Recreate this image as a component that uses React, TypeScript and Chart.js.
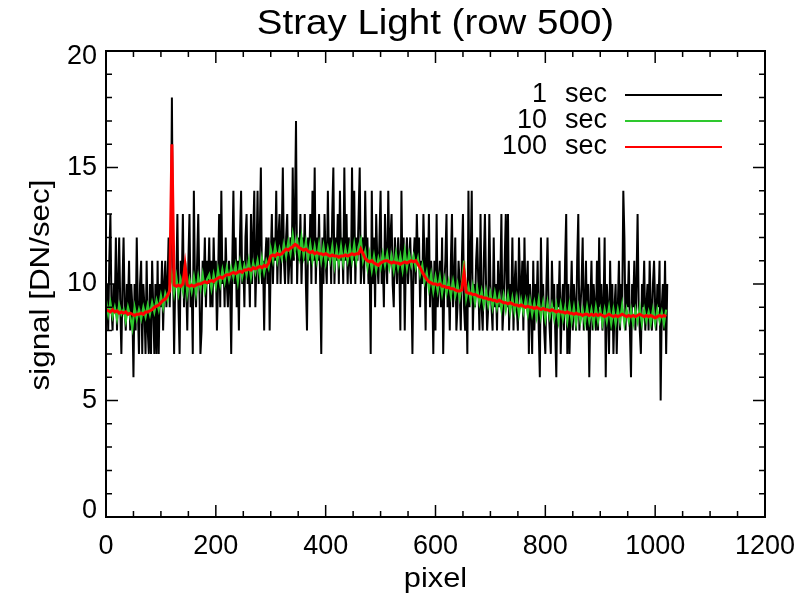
import React, { useEffect, useRef } from "react";
import { Chart, registerables } from "chart.js";

Chart.register(...registerables);

// ---- data ----
const TITLE = "Stray Light (row 500)";
const X_TITLE = "pixel";
const Y_TITLE = "signal [DN/sec]";
const xTicks = [0, 200, 400, 600, 800, 1000, 1200];
const yTicks = [0, 5, 10, 15, 20];
const legendNames = ["1", "10", "100"];
const legendUnit = "sec";

// 1 sec exposure, sampled every 2 pixels
const BLACK_STEP = 2;
const black1s = [
  9, 10, 8, 11, 13, 9, 8, 10, 9, 12, 8, 10, 12, 9, 7, 10,
  12, 9, 8, 10, 9, 11, 8, 10, 9, 6, 10, 8, 12, 9, 7, 10,
  11, 7, 10, 9, 7, 11, 8, 7, 10, 7, 11, 9, 7, 10, 7, 11,
  7, 10, 9, 11, 8, 10, 11, 9, 10, 12, 9, 11, 18, 11, 7, 10,
  10, 13, 9, 7, 11, 10, 13, 9, 11, 10, 8, 11, 13, 9, 10, 7,
  14, 10, 9, 11, 13, 10, 7, 8, 11, 10, 12, 9, 11, 10, 12, 9,
  11, 9, 12, 10, 11, 8, 10, 13, 9, 14, 10, 11, 9, 12, 10, 9,
  11, 10, 7, 11, 14, 10, 12, 9, 11, 8, 12, 14, 10, 11, 9, 12,
  13, 10, 11, 9, 13, 10, 12, 14, 9, 11, 14, 10, 12, 15, 10, 11,
  8, 11, 12, 10, 12, 8, 11, 13, 10, 12, 11, 14, 10, 12, 13, 10,
  12, 15, 11, 10, 12, 13, 10, 11, 12, 10, 15, 11, 13, 17, 10, 12,
  11, 13, 10, 12, 11, 13, 10, 8, 12, 11, 13, 10, 14, 11, 15, 10,
  12, 11, 13, 10, 7, 12, 10, 13, 11, 10, 14, 11, 12, 10, 13, 15,
  10, 12, 11, 13, 10, 14, 11, 12, 10, 15, 11, 13, 10, 12, 11, 10,
  15, 11, 14, 10, 12, 11, 13, 15, 10, 11, 12, 10, 14, 11, 12, 10,
  11, 7, 14, 10, 12, 9, 13, 11, 10, 12, 14, 10, 11, 9, 13, 11,
  10, 14, 11, 12, 13, 10, 9, 12, 11, 10, 12, 11, 8, 14, 10, 12,
  8, 11, 12, 10, 11, 12, 10, 7, 11, 12, 10, 13, 11, 12, 9, 11,
  10, 13, 11, 8, 12, 10, 13, 9, 11, 10, 7, 11, 8, 13, 9, 10,
  11, 9, 12, 7, 10, 11, 13, 9, 10, 8, 11, 13, 9, 10, 12, 8,
  9, 11, 10, 8, 11, 13, 9, 8, 10, 7, 14, 9, 11, 14, 8, 10,
  9, 11, 12, 10, 8, 13, 9, 8, 11, 13, 10, 8, 9, 13, 10, 9,
  8, 12, 9, 10, 8, 11, 9, 10, 13, 8, 9, 11, 13, 9, 13, 8,
  10, 9, 12, 8, 10, 11, 9, 8, 12, 10, 9, 11, 8, 12, 9, 10,
  11, 7, 10, 9, 7, 11, 8, 10, 9, 11, 8, 6, 12, 9, 10, 8,
  7, 10, 12, 9, 8, 7, 11, 9, 10, 8, 6, 10, 9, 11, 7, 9,
  10, 8, 11, 13, 7, 10, 7, 9, 11, 8, 10, 9, 8, 11, 13, 8,
  9, 10, 12, 8, 9, 11, 8, 10, 6, 9, 11, 8, 10, 9, 8, 11,
  8, 12, 9, 10, 8, 9, 12, 6, 10, 9, 7, 11, 8, 10, 7, 9,
  10, 7, 9, 11, 8, 10, 9, 14, 12, 8, 10, 9, 11, 8, 6, 10,
  9, 11, 8, 10, 13, 9, 8, 7, 10, 9, 11, 8, 9, 10, 8, 11,
  9, 8, 10, 11, 9, 8, 10, 9, 11, 5, 9, 10, 8, 11, 7, 10,
];

// 10 sec and 100 sec exposures, sampled every 4 pixels
const AVG_STEP = 4;
const green10s = [
  9.3, 8.7, 9.2, 8.6, 9.0, 8.5, 9.1, 8.7, 8.9, 8.4, 9.0, 8.6, 8.1, 9.0, 8.5, 8.9,
  8.5, 9.0, 8.6, 9.1, 8.7, 9.2, 8.8, 9.3, 8.9, 9.5, 9.0, 9.6, 9.3, 9.9, 10.4, 9.6,
  10.3, 9.6, 10.2, 9.7, 10.9, 9.6, 10.2, 9.7, 10.3, 9.6, 10.3, 9.8, 10.4, 9.7, 10.2, 10.4,
  9.8, 10.4, 9.9, 10.6, 10.0, 10.6, 10.1, 10.7, 10.2, 10.7, 10.3, 10.8, 10.1, 10.9, 10.3, 10.8,
  10.4, 11.0, 10.3, 10.9, 10.5, 11.0, 10.4, 11.1, 10.5, 11.0, 10.7, 11.5, 11.0, 11.6, 11.0, 11.5,
  11.1, 11.7, 11.2, 11.8, 11.3, 12.1, 11.4, 11.9, 11.2, 12.0, 11.2, 11.8, 11.1, 11.7, 11.0, 11.6,
  11.0, 11.7, 11.0, 11.6, 10.9, 11.5, 11.0, 11.6, 10.8, 11.5, 10.9, 11.6, 10.9, 11.5, 11.0, 11.6,
  11.0, 11.7, 11.0, 11.6, 11.9, 11.0, 11.4, 10.7, 11.3, 10.6, 11.2, 10.6, 11.1, 10.7, 11.3, 10.8,
  11.3, 10.7, 11.2, 10.6, 11.3, 10.7, 11.2, 10.6, 11.4, 10.7, 11.3, 10.8, 11.2, 10.7, 11.1, 10.4,
  10.8, 10.1, 10.5, 9.8, 10.4, 9.7, 10.3, 9.7, 10.3, 9.6, 10.2, 9.6, 10.1, 9.5, 10.1, 9.5,
  10.0, 9.4, 10.0, 11.0, 9.4, 9.9, 9.3, 9.9, 9.2, 9.8, 9.2, 9.7, 9.1, 9.7, 9.1, 9.6,
  9.0, 9.6, 9.0, 9.5, 8.9, 9.5, 8.9, 9.5, 8.8, 9.4, 8.8, 9.4, 8.7, 9.3, 8.8, 9.3,
  8.7, 9.3, 8.7, 9.2, 8.6, 9.3, 8.6, 9.2, 8.5, 9.2, 8.6, 9.1, 8.5, 9.1, 8.4, 9.1,
  8.5, 9.0, 8.4, 9.1, 8.4, 9.0, 8.3, 9.0, 8.4, 8.9, 8.3, 9.0, 8.4, 8.9, 8.3, 9.0,
  8.4, 8.9, 8.3, 8.9, 8.4, 9.0, 8.3, 8.9, 8.3, 8.9, 8.4, 9.1, 8.3, 8.9, 8.4, 8.9,
  8.3, 8.9, 8.4, 9.0, 8.3, 8.9, 8.4, 8.8, 8.3, 8.9, 8.3, 8.9, 8.4, 8.8, 8.3, 8.9,
];
const red100s = [
  8.9, 8.85, 8.8, 8.9, 8.8, 8.85, 8.75, 8.8, 8.75, 8.8, 8.7, 8.75, 8.7, 8.65, 8.7, 8.7,
  8.75, 8.7, 8.8, 8.8, 8.85, 8.9, 9.0, 9.05, 9.1, 9.2, 9.3, 9.35, 9.5, 9.7, 16.0, 9.95,
  9.9, 9.95, 9.9, 10.0, 10.8, 9.95, 9.9, 9.95, 9.9, 9.95, 10.0, 10.0, 10.05, 10.1, 10.05, 10.1,
  10.15, 10.1, 10.2, 10.25, 10.3, 10.25, 10.35, 10.4, 10.4, 10.45, 10.5, 10.45, 10.5, 10.55, 10.5, 10.6,
  10.6, 10.65, 10.6, 10.7, 10.65, 10.7, 10.75, 10.7, 10.8, 10.75, 10.9, 11.2, 11.25, 11.2, 11.3, 11.25,
  11.3, 11.4, 11.5, 11.45, 11.55, 11.6, 11.7, 11.65, 11.55, 11.5, 11.45, 11.5, 11.4, 11.35, 11.4, 11.3,
  11.35, 11.3, 11.3, 11.25, 11.3, 11.25, 11.2, 11.25, 11.2, 11.2, 11.15, 11.2, 11.2, 11.25, 11.2, 11.25,
  11.3, 11.25, 11.3, 11.3, 11.5, 11.3, 11.1, 11.0, 10.95, 11.0, 10.9, 10.85, 10.8, 10.9, 10.95, 11.0,
  11.0, 10.95, 10.9, 10.95, 10.9, 10.9, 10.85, 10.9, 10.95, 10.9, 10.95, 11.0, 10.95, 11.0, 10.85, 10.7,
  10.5, 10.35, 10.2, 10.1, 10.05, 10.0, 10.0, 9.95, 10.0, 9.9, 9.9, 9.85, 9.85, 9.8, 9.8, 9.75,
  9.7, 9.7, 9.75, 10.5, 9.65, 9.6, 9.6, 9.55, 9.55, 9.5, 9.45, 9.45, 9.4, 9.4, 9.35, 9.35,
  9.3, 9.3, 9.25, 9.3, 9.25, 9.2, 9.2, 9.15, 9.2, 9.15, 9.1, 9.1, 9.05, 9.1, 9.05, 9.0,
  9.05, 9.0, 9.0, 8.95, 9.0, 8.95, 8.9, 8.95, 8.9, 8.9, 8.85, 8.9, 8.85, 8.8, 8.85, 8.8,
  8.8, 8.75, 8.8, 8.75, 8.75, 8.7, 8.75, 8.7, 8.7, 8.65, 8.7, 8.7, 8.65, 8.7, 8.65, 8.7,
  8.65, 8.7, 8.65, 8.6, 8.65, 8.7, 8.65, 8.6, 8.65, 8.6, 8.65, 8.7, 8.65, 8.6, 8.65, 8.6,
  8.65, 8.6, 8.65, 8.7, 8.65, 8.6, 8.65, 8.6, 8.65, 8.6, 8.55, 8.6, 8.65, 8.6, 8.65, 8.6,
];

const COLORS = { black: "#000000", green: "#2ec82e", red: "#ff0000" };
const FONT = '"Liberation Sans", Arial, sans-serif';

const toPoints = (vals: number[], step: number) =>
  vals.map((v, i) => ({ x: i * step, y: v }));

// draw text stretched horizontally (IDL vector fonts are wider than Arial)
function stretchText(ctx: any, text: string, x: number, y: number, sx: number) {
  ctx.save();
  ctx.translate(x, y);
  ctx.scale(sx, 1);
  ctx.fillText(text, 0, 0);
  ctx.restore();
}

const idlPlugin = {
  id: "idlDecor",
  afterDatasetsDraw(chart: any) {
    const { ctx, chartArea: a, scales } = chart;
    const xs = scales.x;
    const ys = scales.y;
    ctx.save();
    ctx.strokeStyle = "#000";
    ctx.fillStyle = "#000";
    // frame
    ctx.lineWidth = 2;
    ctx.strokeRect(a.left, a.top, a.right - a.left, a.bottom - a.top);
    // ticks (inward, mirrored on all sides)
    ctx.lineWidth = 1.5;
    const MAJ = 12;
    const MIN = 6;
    ctx.beginPath();
    for (let v = 0; v <= 1200; v += 50) {
      const px = xs.getPixelForValue(v);
      const len = v % 200 === 0 ? MAJ : MIN;
      ctx.moveTo(px, a.bottom);
      ctx.lineTo(px, a.bottom - len);
      ctx.moveTo(px, a.top);
      ctx.lineTo(px, a.top + len);
    }
    for (let v = 0; v <= 20; v += 1) {
      const py = ys.getPixelForValue(v);
      const len = v % 5 === 0 ? MAJ : MIN;
      ctx.moveTo(a.left, py);
      ctx.lineTo(a.left + len, py);
      ctx.moveTo(a.right, py);
      ctx.lineTo(a.right - len, py);
    }
    ctx.stroke();

    // tick labels
    ctx.font = `27px ${FONT}`;
    ctx.textAlign = "center";
    ctx.textBaseline = "middle";
    xTicks.forEach((v) => {
      ctx.fillText(String(v), xs.getPixelForValue(v), a.bottom + 30);
    });
    ctx.textAlign = "right";
    yTicks.forEach((v, i) => {
      let py = ys.getPixelForValue(v);
      if (i === 0) py -= 6;
      if (i === yTicks.length - 1) py += 6;
      ctx.fillText(String(v), a.left - 9, py);
    });

    // axis titles
    ctx.textAlign = "center";
    ctx.font = `28px ${FONT}`;
    stretchText(ctx, X_TITLE, (a.left + a.right) / 2, a.bottom + 62, 1.1);
    ctx.save();
    ctx.translate(41, (a.top + a.bottom) / 2 + 1);
    ctx.rotate(-Math.PI / 2);
    stretchText(ctx, Y_TITLE, 0, 0, 1.12);
    ctx.restore();

    // title
    ctx.font = `35px ${FONT}`;
    stretchText(ctx, TITLE, (a.left + a.right) / 2, 24, 1.1);

    // legend
    const legendColors = [COLORS.black, COLORS.green, COLORS.red];
    ctx.font = `27px ${FONT}`;
    legendNames.forEach((name, i) => {
      const y = 95 + i * 26;
      ctx.textAlign = "right";
      ctx.fillStyle = "#000";
      ctx.fillText(name, 547, y);
      ctx.fillText(legendUnit, 607, y);
      ctx.strokeStyle = legendColors[i];
      ctx.lineWidth = 2;
      ctx.beginPath();
      ctx.moveTo(625, y);
      ctx.lineTo(722, y);
      ctx.stroke();
    });
    ctx.restore();
  },
};

export default function App() {
  const ref = useRef<HTMLCanvasElement | null>(null);
  useEffect(() => {
    document.body.style.margin = "0";
    document.body.style.background = "#ffffff";
    const canvas = ref.current;
    if (!canvas) return;
    const chart = new Chart(canvas, {
      type: "line",
      data: {
        datasets: [
          {
            label: "100 sec",
            data: toPoints(red100s, AVG_STEP),
            borderColor: COLORS.red,
            borderWidth: 3,
            pointRadius: 0,
            tension: 0,
          },
          {
            label: "10 sec",
            data: toPoints(green10s, AVG_STEP),
            borderColor: COLORS.green,
            borderWidth: 2.2,
            pointRadius: 0,
            tension: 0,
          },
          {
            label: "1 sec",
            data: toPoints(black1s, BLACK_STEP),
            borderColor: COLORS.black,
            borderWidth: 2,
            pointRadius: 0,
            tension: 0,
          },
        ],
      },
      options: {
        responsive: false,
        animation: false,
        events: [],
        layout: { padding: { left: 106, right: 35, top: 51, bottom: 85 } },
        plugins: {
          legend: { display: false },
          title: { display: false },
          tooltip: { enabled: false },
        },
        scales: {
          x: { type: "linear", min: 0, max: 1200, display: false },
          y: { type: "linear", min: 0, max: 20, display: false },
        },
      },
      plugins: [idlPlugin],
    });
    return () => chart.destroy();
  }, []);
  return (
    <div style={{ width: 800, height: 602, background: "#fff" }}>
      <canvas ref={ref} width={800} height={602} style={{ display: "block" }} />
    </div>
  );
}
